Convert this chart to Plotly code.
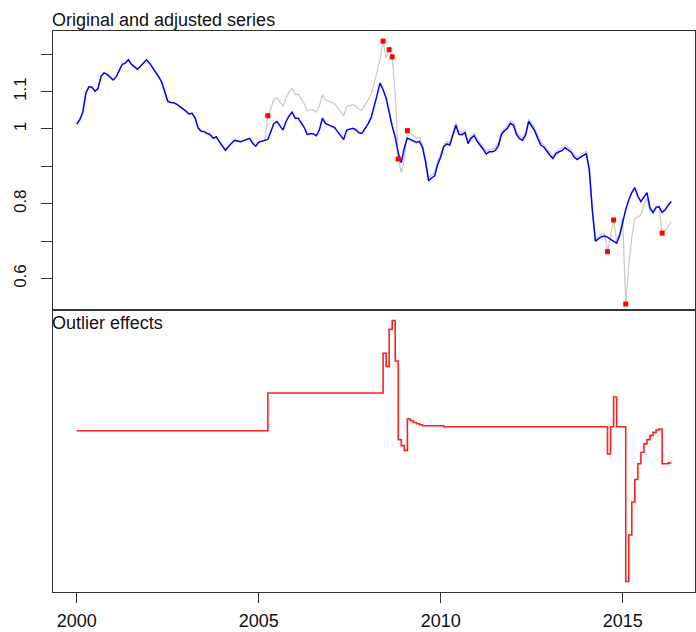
import plotly.graph_objects as go

# monthly series, Jan 2000 .. May 2016
start_year = 2000
adjusted = [
    1.013, 1.025, 1.045, 1.096, 1.113, 1.112, 1.101, 1.108, 1.141, 1.150, 1.146, 1.138,
    1.131, 1.140, 1.155, 1.173, 1.176, 1.185, 1.173, 1.166, 1.160, 1.168, 1.177, 1.185,
    1.176, 1.165, 1.153, 1.140, 1.125, 1.100, 1.074, 1.071, 1.070, 1.066, 1.060, 1.056,
    1.048, 1.040, 1.042, 1.030, 1.003, 0.994, 0.993, 0.988, 0.985, 0.975, 0.979, 0.966,
    0.955, 0.943, 0.953, 0.962, 0.970, 0.968, 0.966, 0.969, 0.972, 0.975, 0.962, 0.954,
    0.965, 0.968, 0.970, 0.972, 0.993, 1.015, 1.020, 1.008, 0.997, 1.020, 1.035, 1.045,
    1.029, 1.029, 1.015, 1.004, 0.985, 0.988, 0.987, 0.982, 0.998, 1.029, 1.015, 1.012,
    1.009, 1.004, 0.993, 0.982, 0.972, 0.997, 0.999, 1.002, 0.998, 0.990, 0.988, 0.999,
    1.013, 1.029, 1.056, 1.090, 1.123, 1.105, 1.082, 1.042, 1.008, 0.978, 0.935, 0.910,
    0.950, 0.976, 0.972, 0.966, 0.964, 0.967, 0.950, 0.912, 0.862, 0.869, 0.875, 0.905,
    0.925, 0.953, 0.960, 0.957, 0.986, 1.010, 0.986, 0.985, 0.990, 0.961, 0.975, 0.982,
    0.967, 0.957, 0.946, 0.933, 0.939, 0.939, 0.943, 0.955, 0.985, 0.995, 1.002, 1.015,
    1.010, 0.985, 0.974, 0.970, 0.984, 1.020, 1.008, 0.995, 0.975, 0.957, 0.952, 0.940,
    0.930, 0.921, 0.934, 0.939, 0.942, 0.950, 0.945, 0.938, 0.925, 0.918, 0.924, 0.928,
    0.934, 0.890, 0.781, 0.700, 0.706, 0.712, 0.714, 0.711, 0.705, 0.700, 0.695, 0.715,
    0.755, 0.785, 0.810, 0.830, 0.843, 0.820, 0.806, 0.820, 0.830, 0.789, 0.777, 0.790,
    0.792, 0.777, 0.784, 0.796, 0.806,
]

effects = (
    [0.0] * 63
    + [0.0633] * 38
    + [0.130, 0.108, 0.170, 0.185, 0.117, -0.015, -0.025, -0.033,
       0.0195, 0.0167, 0.0139, 0.0117, 0.0100]
    + [0.0083] * 7
    + [0.0067] * 54
    + [-0.039, 0.0067, 0.0567, 0.0067, 0.0067, 0.0067,
       -0.253, -0.175, -0.1195, -0.0817, -0.0555, -0.036, -0.022, -0.015,
       -0.0078, -0.0028, 0.0012, 0.0028,
       -0.0555, -0.0555, -0.054, -0.054]
)

outlier_idx = [63, 101, 103, 104, 106, 109, 175, 177, 181, 193]

n = len(adjusted)
times = [start_year + i / 12 for i in range(n)]
original = [a + e for a, e in zip(adjusted, effects)]

x_ticks = [2000, 2005, 2010, 2015]
y_ticks = [0.6, 0.7, 0.8, 0.9, 1.0, 1.1, 1.2]
y_tick_text = ["0.6", "", "0.8", "", "1", "1.1", ""]

FONT = "Liberation Sans, Arial, sans-serif"
AX = "#333333"

fig = go.Figure()
fig.add_trace(go.Scatter(x=times, y=original, mode="lines",
                         line=dict(color="#c8c8c8", width=1.2),
                         xaxis="x", yaxis="y", hoverinfo="skip"))
fig.add_trace(go.Scatter(x=times, y=adjusted, mode="lines",
                         line=dict(color="#0000ff", width=1.5),
                         xaxis="x", yaxis="y"))
fig.add_trace(go.Scatter(x=[times[i] for i in outlier_idx],
                         y=[original[i] for i in outlier_idx],
                         mode="markers",
                         marker=dict(color="#ff0000", size=5, symbol="square"),
                         xaxis="x", yaxis="y"))
fig.add_trace(go.Scatter(x=times, y=effects, mode="lines",
                         line=dict(color="#ff2020", width=1.6, shape="hv"),
                         xaxis="x2", yaxis="y2"))

span_t = times[-1] - times[0]
x_range = [times[0] - 0.04 * span_t, times[-1] + 0.04 * span_t]
emin, emax = min(effects), max(effects)
espan = emax - emin
e_range = [emin - 0.04 * espan, emax + 0.04 * espan]

split = 282 / 561

fig.update_layout(
    width=696, height=632,
    margin=dict(l=53, r=1, t=31, b=40, autoexpand=False),
    paper_bgcolor="white", plot_bgcolor="white",
    showlegend=False,
    font=dict(family=FONT, color="#111111"),
    xaxis=dict(domain=[0, 1], anchor="y", range=x_range, showticklabels=False,
               ticks="", showgrid=False, zeroline=False, automargin=False,
               showline=True, mirror=True, linecolor=AX, linewidth=1),
    yaxis=dict(domain=[split, 1], anchor="x", range=[0.516, 1.262],
               tickvals=y_ticks, ticktext=y_tick_text, tickangle=-90,
               ticks="outside", ticklen=11, tickcolor=AX, tickwidth=1,
               ticklabelstandoff=8, automargin=False,
               tickfont=dict(size=17, family=FONT, color="#111111"),
               showgrid=False, zeroline=False,
               showline=True, mirror=True, linecolor=AX, linewidth=1),
    xaxis2=dict(domain=[0, 1], anchor="y2", range=x_range,
                tickvals=x_ticks, ticktext=[str(v) for v in x_ticks],
                ticks="outside", ticklen=10, tickcolor=AX, tickwidth=1,
                ticklabelstandoff=2, automargin=False,
                tickfont=dict(size=18, family=FONT, color="#111111"),
                showgrid=False, zeroline=False,
                showline=True, mirror=True, linecolor=AX, linewidth=1),
    yaxis2=dict(domain=[0, split], anchor="x2", range=e_range,
                showticklabels=False, ticks="", showgrid=False, zeroline=False,
                automargin=False,
                showline=True, mirror=True, linecolor=AX, linewidth=1),
    annotations=[
        dict(text="Original and adjusted series", xref="paper", yref="paper",
             x=0, y=1, xanchor="left", yanchor="bottom", showarrow=False,
             xshift=-3, yshift=-1,
             font=dict(size=18, family=FONT, color="#111111")),
        dict(text="Outlier effects", xref="paper", yref="paper",
             x=0, y=split, xanchor="left", yanchor="top", showarrow=False,
             xshift=-3, yshift=-1,
             font=dict(size=18, family=FONT, color="#111111")),
    ],
)

fig.write_html(
    "out.html",
    config={"displayModeBar": False},
    post_script="document.body.style.margin='0';document.body.style.padding='0';"
                "document.body.style.overflow='hidden';",
)
